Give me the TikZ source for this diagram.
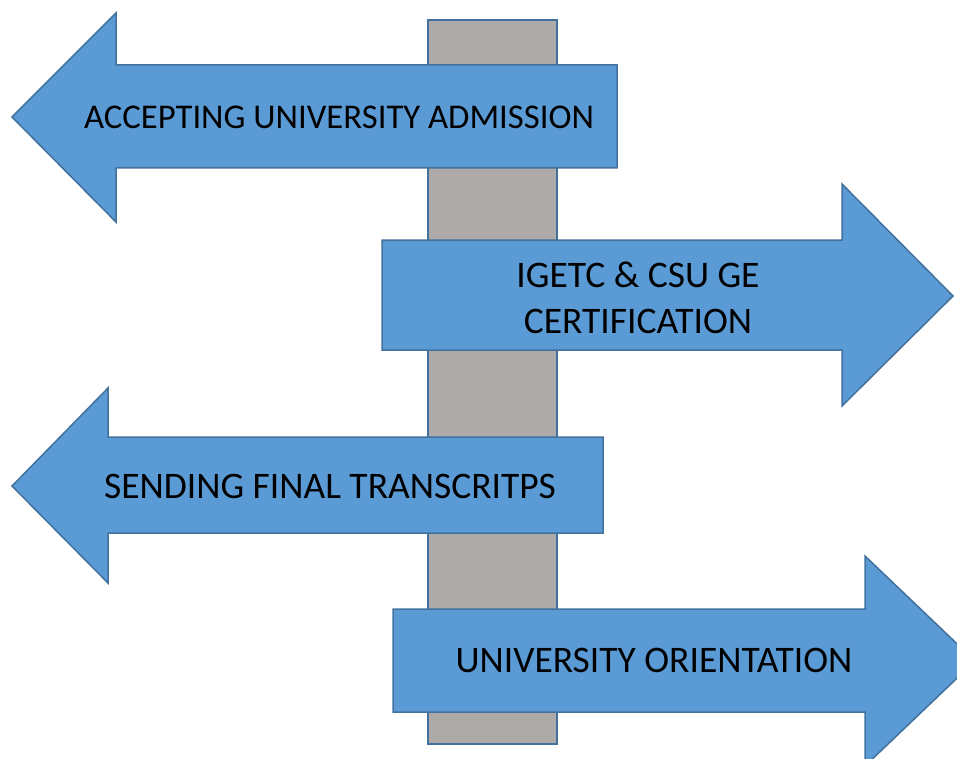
\documentclass[tikz,border=0pt]{standalone}
\usepackage{fontspec}
\setmainfont{Carlito}
\definecolor{signblue}{HTML}{5B9BD5}
\definecolor{signedge}{HTML}{41719C}
\definecolor{postgray}{HTML}{AEAAAA}
\begin{document}
\begin{tikzpicture}[x=1pt,y=-1pt,
    board/.style={draw=signedge,line width=1.5pt,fill=signblue,line join=miter},
    pole/.style={draw=signedge,line width=1.5pt,fill=postgray},
    label/.style={font=\fontsize{37.5}{46}\selectfont,align=center,text=black}]
    \useasboundingbox (0,0) rectangle (957,759);
    \clip (0,0) rectangle (957,759);

    % the post
    \draw[pole] (428,20) rectangle (557,744);

    % left boards
    \draw[board] (617,65) -- (116,65) -- (116,13) -- (12,117) -- (116,222)
        -- (116,168) -- (617,168) -- cycle;
    \draw[board] (603,437) -- (108,437) -- (108,388) -- (12,486) -- (108,583)
        -- (108,533) -- (603,533) -- cycle;

    % right boards
    \draw[board] (382,240) -- (842,240) -- (842,184) -- (953,296) -- (842,406)
        -- (842,350) -- (382,350) -- cycle;
    \draw[board] (393,609) -- (865,609) -- (865,556) -- (975,661) -- (865,766)
        -- (865,712) -- (393,712) -- cycle;

    \node[label,font=\fontsize{34.7}{42}\selectfont] (admission) at (339,117)
        {ACCEPTING UNIVERSITY ADMISSION};
    \node[label] (igetc) at (638,298) {IGETC \& CSU GE\\CERTIFICATION};
    \node[label] (transcripts) at (330,486) {SENDING FINAL TRANSCRITPS};
    \node[label] (orientation) at (654,660) {UNIVERSITY ORIENTATION};
\end{tikzpicture}
\end{document}
